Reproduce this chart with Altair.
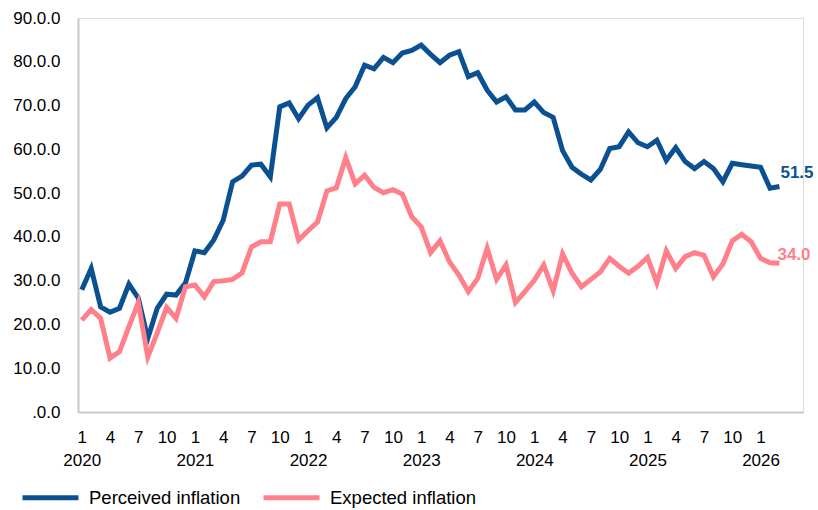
import altair as alt
import pandas as pd

start_year = 2020
series_names = ["Perceived inflation", "Expected inflation"]
colors = ["#0B5191", "#FF808B"]

perceived = [
    27.9, 32.8, 24.0, 22.8, 23.7, 29.2, 26.0, 16.8, 23.7, 26.9, 26.7, 29.5,
    36.8, 36.4, 39.3, 43.8, 52.6, 53.9, 56.4, 56.6, 53.7, 69.7, 70.6, 67.0,
    70.1, 71.8, 64.9, 67.3, 71.6, 74.3, 79.2, 78.4, 81.0, 79.8, 82.0, 82.6,
    83.8, 81.7, 79.8, 81.5, 82.3, 76.6, 77.5, 73.5, 70.8, 72.0, 69.0, 69.0,
    70.8, 68.4, 67.3, 59.7, 55.9, 54.3, 53.0, 55.4, 60.2, 60.6, 64.0, 61.5,
    60.6, 62.1, 57.5, 60.4, 57.2, 55.6, 57.2, 55.6, 52.6, 56.8, 56.5, 56.2,
    55.9, 51.1, 51.5,
]
expected = [
    21.0, 23.4, 21.4, 12.3, 13.8, 19.5, 25.0, 12.6, 18.0, 23.9, 21.4, 28.6,
    29.0, 26.3, 29.8, 30.0, 30.3, 31.8, 37.7, 38.9, 38.9, 47.5, 47.5, 39.3,
    41.4, 43.4, 50.5, 51.2, 58.1, 52.1, 54.1, 51.3, 50.1, 50.8, 49.8, 44.6,
    42.3, 36.4, 39.1, 34.3, 31.3, 27.5, 30.5, 37.4, 30.3, 33.6, 25.0, 27.5,
    30.1, 33.6, 27.7, 36.1, 31.7, 28.6, 30.3, 32.0, 35.1, 33.3, 31.7, 33.3,
    35.3, 29.5, 36.8, 32.8, 35.5, 36.4, 35.8, 30.9, 33.8, 39.1, 40.6, 38.9,
    35.1, 34.1, 34.0,
]
x_tick_values = list(range(0, 73, 3))
y_tick_values = [0, 10, 20, 30, 40, 50, 60, 70, 80, 90]

rows = []
for name, vals in zip(series_names, [perceived, expected]):
    for i, v in enumerate(vals):
        rows.append({"t": i, "value": v, "series": name})
df = pd.DataFrame(rows)

last = pd.DataFrame([
    {"t": len(perceived) - 1, "value": perceived[-1], "series": series_names[0]},
    {"t": len(expected) - 1, "value": expected[-1], "series": series_names[1]},
])

FONT = "Liberation Sans"
x_scale = alt.Scale(domain=[-0.4, 76.5], nice=False, zero=False)
y_scale = alt.Scale(domain=[0, 90], nice=False)
color_scale = alt.Scale(domain=series_names, range=colors)

month_expr = ("datum.value % 12 == 0 ? ['' + (datum.value % 12 + 1), '' + (" + str(start_year) +
              " + floor(datum.value / 12))] : '' + (datum.value % 12 + 1)")

x_axis = alt.Axis(values=x_tick_values, labelExpr=month_expr, title=None,
                  ticks=False, grid=False, domainColor="#C8C8C8", domainWidth=2,
                  labelFontSize=17, labelColor="#000000", labelFont=FONT,
                  labelPadding=17, labelLineHeight=23, labelBaseline="top",
                  labelAlign="center", labelFlush=False, labelOverlap=False)
y_axis = alt.Axis(values=y_tick_values, title=None, ticks=False, grid=False,
                  labelExpr="datum.value == 0 ? '.0.0' : format(datum.value, '.1f') + '.0'",
                  domainColor="#C8C8C8", domainWidth=2, labelFontSize=17,
                  labelColor="#000000", labelFont=FONT, labelPadding=18,
                  labelOverlap=False)

lines = alt.Chart(df).mark_line(strokeWidth=5, strokeJoin="miter").encode(
    x=alt.X("t:Q", scale=x_scale, axis=x_axis),
    y=alt.Y("value:Q", scale=y_scale, axis=y_axis),
    color=alt.Color("series:N", scale=color_scale, sort=series_names,
                    legend=alt.Legend(orient="none", legendX=-58, legendY=449, direction="horizontal",
                                      title=None, symbolType="stroke", symbolStrokeWidth=5,
                                      symbolSize=3136, labelFontSize=18.5, labelFont=FONT,
                                      labelColor="#000000", columnPadding=12, labelOffset=8)),
    detail="series:N",
)

def end_label(name, dx, dy):
    return alt.Chart(last).transform_filter(alt.datum.series == name).mark_text(
        align="left", baseline="middle", fontWeight="bold", fontSize=17, font=FONT,
        dx=dx, dy=dy,
    ).encode(
        x=alt.X("t:Q", scale=x_scale, axis=x_axis),
        y=alt.Y("value:Q", scale=y_scale, axis=y_axis),
        text=alt.Text("value:Q", format=".1f"),
        color=alt.Color("series:N", scale=color_scale, legend=None),
    )

chart = alt.layer(
    lines,
    end_label(series_names[0], 1, -14),
    end_label(series_names[1], -2, -8),
).properties(
    width=725, height=394,
    padding={"left": 78, "top": 18, "right": 15, "bottom": 98},
    autosize=alt.AutoSizeParams(type="none"),
).configure_view(strokeWidth=0, stroke="transparent").configure(font=FONT)

chart.save("out.html", embed_options={"renderer": "svg", "actions": False})
